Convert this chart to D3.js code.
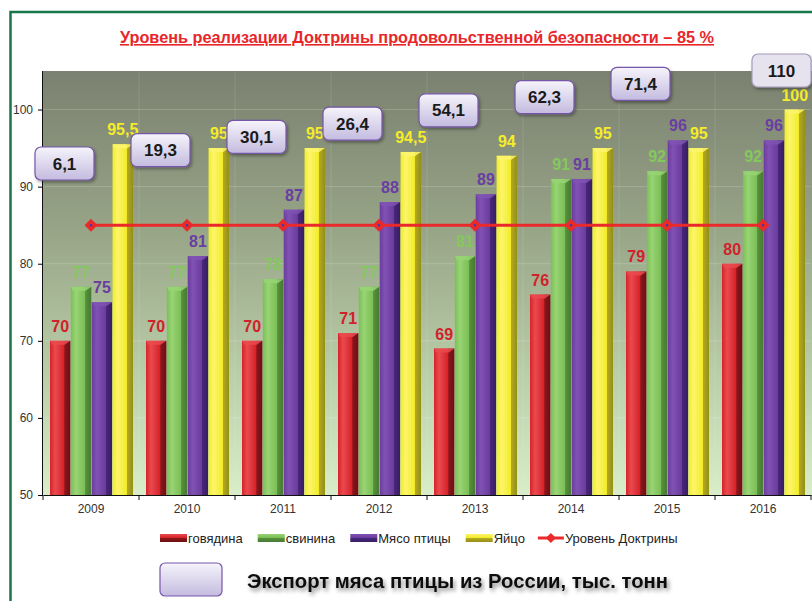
<!DOCTYPE html>
<html lang="ru">
<head>
  <meta charset="UTF-8">
  <title>Уровень реализации Доктрины продовольственной безопасности</title>
  <script src="https://d3js.org/d3.v7.min.js"></script>
  <style>
    body { margin: 0; background: #fff; }
    svg { display: block; }
    text { font-family: "Liberation Sans", Arial, sans-serif; }
  </style>
</head>
<body>
  <div id="chart"></div>
  <script>
    // Data
    const years = ["2009", "2010", "2011", "2012", "2013", "2014", "2015", "2016"];
    const beef = [70, 70, 70, 71, 69, 76, 79, 80];
    const pork = [77, 77, 78, 77, 81, 91, 92, 92];
    const poultry = [75, 81, 87, 88, 89, 91, 96, 96];
    const eggs = [95.5, 95, 95, 94.5, 94, 95, 95, 100];
    const doctrine = [85, 85, 85, 85, 85, 85, 85, 85];
    const poultryExport = [6.1, 19.3, 30.1, 26.4, 54.1, 62.3, 71.4, 110];
    const yTicks = [50, 60, 70, 80, 90, 100];
    const seriesNames = ["говядина", "свинина", "Мясо птицы", "Яйцо"];
    const doctrineName = "Уровень Доктрины";

    const width = 812;
    const height = 601;
    const plot = { left: 43, right: 811, top: 71, bottom: 495 };

    // colours per series: label, light, base, side, far side
    const palette = [
      { label: "#d0232b", light: "#ea4a4f", base: "#d6222a", side: "#8c161b", far: "#6a0f12" },
      { label: "#84c85d", light: "#98d474", base: "#7abf55", side: "#56903c", far: "#477a31" },
      { label: "#6a3ea1", light: "#8052b4", base: "#6a3c9e", side: "#47277a", far: "#391e63" },
      { label: "#f5ec2a", light: "#fbf56c", base: "#f3ec2a", side: "#b2aa1f", far: "#958e17" }
    ];

    const rows = years.map((y, i) => ({
      year: y, values: [beef[i], pork[i], poultry[i], eggs[i]]
    }));

    const svg = d3.select("#chart").append("svg")
      .attr("width", width)
      .attr("height", height);

    const defs = svg.append("defs");

    // plot background
    const bg = defs.append("linearGradient").attr("id", "bg")
      .attr("x1", 0).attr("y1", 0).attr("x2", 0).attr("y2", 1);
    bg.append("stop").attr("offset", "0%").attr("stop-color", "#7b8170");
    bg.append("stop").attr("offset", "35%").attr("stop-color", "#95a285");
    bg.append("stop").attr("offset", "70%").attr("stop-color", "#b8cca6");
    bg.append("stop").attr("offset", "100%").attr("stop-color", "#d9edc9");

    palette.forEach((c, i) => {
      const g = defs.append("linearGradient").attr("id", "bar" + i)
        .attr("x1", 0).attr("y1", 0).attr("x2", 1).attr("y2", 0);
      g.append("stop").attr("offset", "0%").attr("stop-color", c.base);
      g.append("stop").attr("offset", "25%").attr("stop-color", c.light);
      g.append("stop").attr("offset", "68%").attr("stop-color", c.base);
      g.append("stop").attr("offset", "72%").attr("stop-color", c.side);
      g.append("stop").attr("offset", "100%").attr("stop-color", c.far);

      const lg = defs.append("linearGradient").attr("id", "leg" + i)
        .attr("x1", 0).attr("y1", 0).attr("x2", 0).attr("y2", 1);
      lg.append("stop").attr("offset", "0%").attr("stop-color", c.light);
      lg.append("stop").attr("offset", "45%").attr("stop-color", c.base);
      lg.append("stop").attr("offset", "55%").attr("stop-color", c.side);
      lg.append("stop").attr("offset", "100%").attr("stop-color", c.far);
    });

    const box = defs.append("linearGradient").attr("id", "box")
      .attr("x1", 0).attr("y1", 0).attr("x2", 0).attr("y2", 1);
    box.append("stop").attr("offset", "0%").attr("stop-color", "#f6f4fb");
    box.append("stop").attr("offset", "100%").attr("stop-color", "#c4bbdf");

    const shadow = defs.append("filter").attr("id", "shadow")
      .attr("x", "-20%").attr("y", "-30%").attr("width", "140%").attr("height", "170%");
    shadow.append("feDropShadow").attr("dx", 1.5).attr("dy", 2).attr("stdDeviation", 1.5)
      .attr("flood-color", "#000").attr("flood-opacity", 0.35);

    const textShadow = defs.append("filter").attr("id", "tshadow")
      .attr("x", "-5%").attr("y", "-30%").attr("width", "110%").attr("height", "170%");
    textShadow.append("feDropShadow").attr("dx", 2).attr("dy", 3).attr("stdDeviation", 2)
      .attr("flood-color", "#000").attr("flood-opacity", 0.45);

    // green frame
    svg.append("path")
      .attr("d", `M10.5,${height} V12 H${width}`)
      .attr("fill", "none")
      .attr("stroke", "#17774a")
      .attr("stroke-width", 2.5);

    // title
    svg.append("text")
      .attr("x", 417).attr("y", 43)
      .attr("text-anchor", "middle")
      .attr("fill", "#e8262a")
      .attr("font-family", "'Open Sans', sans-serif")
      .attr("font-weight", "bold")
      .attr("font-size", 16)
      .attr("text-decoration", "underline")
      .attr("textLength", 594)
      .attr("lengthAdjust", "spacingAndGlyphs")
      .text("Уровень реализации Доктрины продовольственной безопасности – 85 %");

    // scales
    const x = d3.scaleBand().domain(years).range([plot.left, plot.right]);
    const xInner = d3.scaleBand().domain(d3.range(4))
      .range([7, x.bandwidth() - 6]).paddingInner(0.02);
    const y = d3.scaleLinear().domain([50, 105]).range([plot.bottom, plot.top]);

    svg.append("rect")
      .attr("x", plot.left).attr("y", plot.top)
      .attr("width", plot.right - plot.left + 1).attr("height", plot.bottom - plot.top)
      .attr("fill", "url(#bg)");

    // faint grid
    svg.append("g").selectAll("line").data(yTicks.slice(1)).join("line")
      .attr("x1", plot.left).attr("x2", plot.right)
      .attr("y1", d => y(d)).attr("y2", d => y(d))
      .attr("stroke", "#ffffff").attr("stroke-opacity", 0.18);
    svg.append("g").selectAll("line").data(years.slice(1)).join("line")
      .attr("x1", d => x(d)).attr("x2", d => x(d))
      .attr("y1", plot.top).attr("y2", plot.bottom)
      .attr("stroke", "#ffffff").attr("stroke-opacity", 0.12);

    // bars
    const groups = svg.append("g").selectAll("g").data(rows).join("g")
      .attr("transform", d => `translate(${x(d.year)},0)`);

    groups.selectAll("rect.bar").data(d => d.values).join("rect")
      .attr("class", "bar")
      .attr("x", (d, i) => xInner(i))
      .attr("y", d => y(d))
      .attr("width", xInner.bandwidth())
      .attr("height", d => y(50) - y(d))
      .attr("fill", (d, i) => `url(#bar${i})`);

    // top bevel of each bar
    groups.selectAll("path.cap").data(d => d.values).join("path")
      .attr("class", "cap")
      .attr("d", (d, i) => {
        const x0 = xInner(i), w = xInner.bandwidth(), t = y(d);
        return `M${x0},${t} H${x0 + w} L${x0 + w * 0.72},${t + 4} L${x0 + w * 0.1},${t + 4} Z`;
      })
      .attr("fill", (d, i) => palette[i].light)
      .attr("opacity", 0.85);

    // value labels
    groups.selectAll("text.val").data(d => d.values).join("text")
      .attr("class", "val")
      .attr("x", (d, i) => xInner(i) + xInner.bandwidth() / 2)
      .attr("y", d => y(d) - 9)
      .attr("text-anchor", "middle")
      .attr("font-size", 16)
      .attr("font-weight", "bold")
      .attr("fill", (d, i) => palette[i].label)
      .text(d => String(d).replace(".", ","));

    // axes
    const yAxis = svg.append("g")
      .attr("transform", `translate(${plot.left},0)`)
      .call(d3.axisLeft(y).tickValues(yTicks).tickSize(5).tickPadding(5));
    yAxis.select(".domain").attr("d", `M-0.5,${plot.top}V${plot.bottom}`).attr("stroke", "#111");
    yAxis.selectAll("text").attr("font-size", 12).attr("fill", "#333")
      .attr("font-family", "'Liberation Sans', Arial, sans-serif");

    const xAxis = svg.append("g")
      .attr("transform", `translate(0,${plot.bottom})`)
      .call(d3.axisBottom(x).tickSize(0).tickPadding(9));
    xAxis.select(".domain").attr("stroke", "#111");
    xAxis.selectAll("text").attr("font-size", 12).attr("fill", "#333")
      .attr("font-family", "'Liberation Sans', Arial, sans-serif");
    svg.append("g").selectAll("line").data(years.concat(["end"])).join("line")
      .attr("x1", (d, i) => i < years.length ? x(d) : plot.right)
      .attr("x2", (d, i) => i < years.length ? x(d) : plot.right)
      .attr("y1", plot.bottom).attr("y2", plot.bottom + 5)
      .attr("stroke", "#111");

    // doctrine line
    const cx = d => x(d) + x.bandwidth() / 2;
    svg.append("path")
      .datum(years)
      .attr("d", d3.line().x(cx).y((d, i) => y(doctrine[i])))
      .attr("fill", "none")
      .attr("stroke", "#ea2a2a")
      .attr("stroke-width", 3);
    const marks = svg.append("g").selectAll("g").data(years).join("g")
      .attr("transform", (d, i) => `translate(${cx(d)},${y(doctrine[i])})`);
    marks.append("path").attr("d", "M0,-6.5L6.5,0L0,6.5L-6.5,0Z").attr("fill", "#ea2a2a");
    marks.append("circle").attr("r", 1.2).attr("fill", "#3a3aa8");

    // export callouts
    const boxW = 59, boxH = 33;
    const boxTop = d3.scaleLinear().domain([0, years.length - 1]).range([147, 54]);
    const callouts = svg.append("g").selectAll("g").data(poultryExport).join("g")
      .attr("transform", (d, i) => {
        const left = i === years.length - 1 ? plot.right - boxW : x(years[i]) - 8;
        return `translate(${left},${boxTop(i)})`;
      });
    callouts.append("rect")
      .attr("width", boxW).attr("height", boxH).attr("rx", 6)
      .attr("fill", (d, i) => i === years.length - 1 ? "#e6e3ee" : "url(#box)")
      .attr("stroke", (d, i) => i === years.length - 1 ? "#a59cba" : "#7557a8")
      .attr("stroke-width", 1.2)
      .attr("filter", "url(#shadow)");
    callouts.append("text")
      .attr("x", boxW / 2).attr("y", boxH / 2 + 6)
      .attr("text-anchor", "middle")
      .attr("font-size", 17)
      .attr("font-weight", "bold")
      .attr("fill", "#1a1a1a")
      .text(d => String(d).replace(".", ","));

    // legend
    const legend = svg.append("g").attr("transform", "translate(160,538)");
    let lx = 0;
    seriesNames.forEach((name, i) => {
      legend.append("rect")
        .attr("x", lx).attr("y", -4).attr("width", 27).attr("height", 8)
        .attr("fill", `url(#leg${i})`);
      const t = legend.append("text")
        .attr("x", lx + 28).attr("y", 4.5)
        .attr("font-size", 13).attr("fill", "#222")
        .text(name);
      lx += 28 + t.node().getComputedTextLength() + 15;
    });
    legend.append("line")
      .attr("x1", lx - 2).attr("x2", lx + 24).attr("y1", 0).attr("y2", 0)
      .attr("stroke", "#ea2a2a").attr("stroke-width", 3);
    legend.append("path")
      .attr("d", `M${lx + 11},-5L${lx + 16},0L${lx + 11},5L${lx + 6},0Z`)
      .attr("fill", "#ea2a2a");
    legend.append("text")
      .attr("x", lx + 25).attr("y", 4.5)
      .attr("font-size", 13).attr("fill", "#222")
      .text(doctrineName);

    // bottom caption
    svg.append("rect")
      .attr("x", 160).attr("y", 563).attr("width", 62).attr("height", 33).attr("rx", 5)
      .attr("fill", "url(#box)")
      .attr("stroke", "#7557a8").attr("stroke-width", 1.2);
    svg.append("text")
      .attr("x", 247).attr("y", 588)
      .attr("font-family", "'Open Sans', sans-serif")
      .attr("font-weight", "bold")
      .attr("font-size", 20)
      .attr("fill", "#111")
      .attr("textLength", 421)
      .attr("lengthAdjust", "spacingAndGlyphs")
      .attr("filter", "url(#tshadow)")
      .text("Экспорт мяса птицы из России, тыс. тонн");
  </script>
</body>
</html>
